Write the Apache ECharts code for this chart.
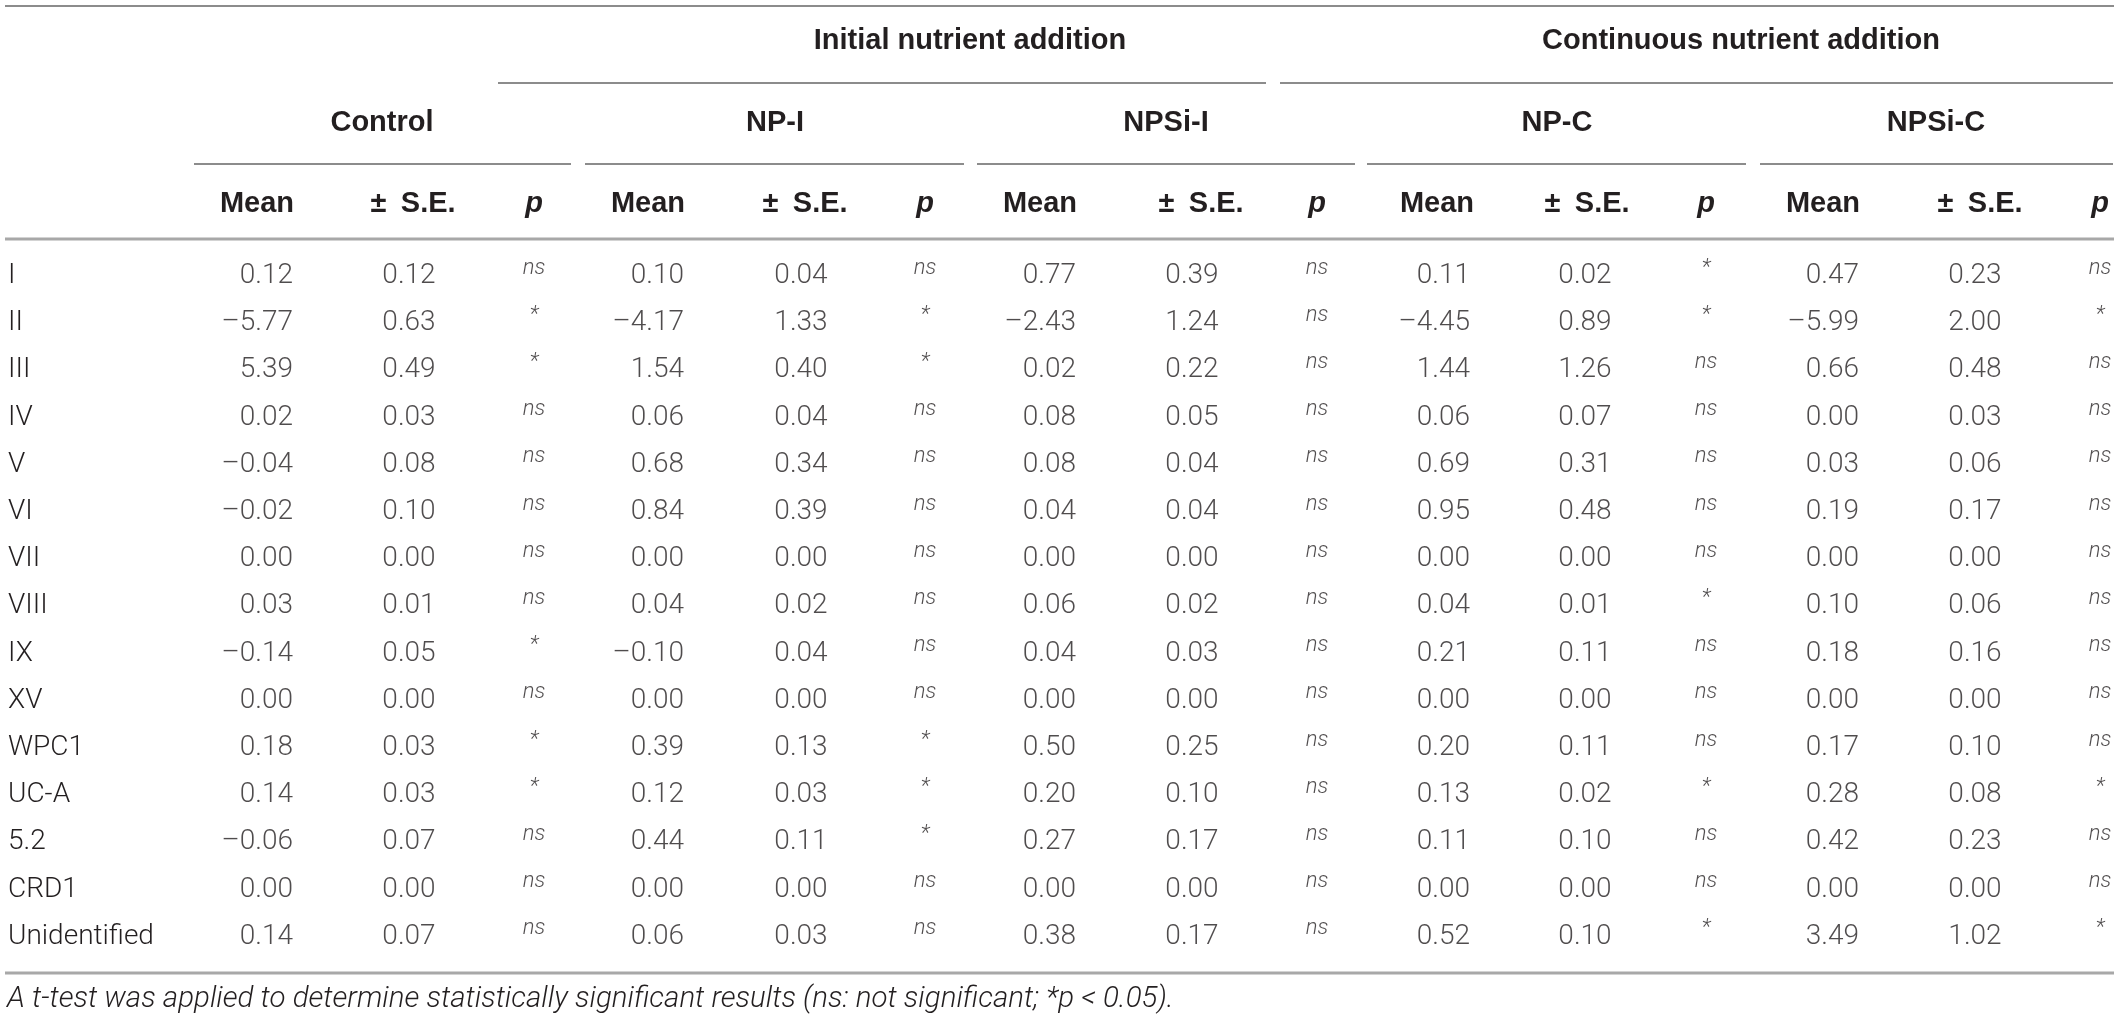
<!DOCTYPE html>
<html lang="en">
<head>
    <meta charset="UTF-8">
    <title>Table</title>
    <style>
        body { margin: 0; background: #fff; }
        #tabela { width: 2120px; height: 1022px; }
    </style>
</head>
<body>
    <div id="tabela"></div>

    <script src="https://cdnjs.cloudflare.com/ajax/libs/echarts/6.0.0/echarts.min.js"></script>
    <script>
        // row labels
        var rowNames = ['I', 'II', 'III', 'IV', 'V', 'VI', 'VII', 'VIII', 'IX', 'XV', 'WPC1', 'UC-A', '5.2', 'CRD1', 'Unidentified'];
        var groupNames = ['Control', 'NP-I', 'NPSi-I', 'NP-C', 'NPSi-C'];

        var controlMean = [0.12, -5.77, 5.39, 0.02, -0.04, -0.02, 0.00, 0.03, -0.14, 0.00, 0.18, 0.14, -0.06, 0.00, 0.14];
        var controlSE   = [0.12, 0.63, 0.49, 0.03, 0.08, 0.10, 0.00, 0.01, 0.05, 0.00, 0.03, 0.03, 0.07, 0.00, 0.07];
        var controlP    = ['ns', '*', '*', 'ns', 'ns', 'ns', 'ns', 'ns', '*', 'ns', '*', '*', 'ns', 'ns', 'ns'];

        var npIMean = [0.10, -4.17, 1.54, 0.06, 0.68, 0.84, 0.00, 0.04, -0.10, 0.00, 0.39, 0.12, 0.44, 0.00, 0.06];
        var npISE   = [0.04, 1.33, 0.40, 0.04, 0.34, 0.39, 0.00, 0.02, 0.04, 0.00, 0.13, 0.03, 0.11, 0.00, 0.03];
        var npIP    = ['ns', '*', '*', 'ns', 'ns', 'ns', 'ns', 'ns', 'ns', 'ns', '*', '*', '*', 'ns', 'ns'];

        var npsiIMean = [0.77, -2.43, 0.02, 0.08, 0.08, 0.04, 0.00, 0.06, 0.04, 0.00, 0.50, 0.20, 0.27, 0.00, 0.38];
        var npsiISE   = [0.39, 1.24, 0.22, 0.05, 0.04, 0.04, 0.00, 0.02, 0.03, 0.00, 0.25, 0.10, 0.17, 0.00, 0.17];
        var npsiIP    = ['ns', 'ns', 'ns', 'ns', 'ns', 'ns', 'ns', 'ns', 'ns', 'ns', 'ns', 'ns', 'ns', 'ns', 'ns'];

        var npCMean = [0.11, -4.45, 1.44, 0.06, 0.69, 0.95, 0.00, 0.04, 0.21, 0.00, 0.20, 0.13, 0.11, 0.00, 0.52];
        var npCSE   = [0.02, 0.89, 1.26, 0.07, 0.31, 0.48, 0.00, 0.01, 0.11, 0.00, 0.11, 0.02, 0.10, 0.00, 0.10];
        var npCP    = ['*', '*', 'ns', 'ns', 'ns', 'ns', 'ns', '*', 'ns', 'ns', 'ns', '*', 'ns', 'ns', '*'];

        var npsiCMean = [0.47, -5.99, 0.66, 0.00, 0.03, 0.19, 0.00, 0.10, 0.18, 0.00, 0.17, 0.28, 0.42, 0.00, 3.49];
        var npsiCSE   = [0.23, 2.00, 0.48, 0.03, 0.06, 0.17, 0.00, 0.06, 0.16, 0.00, 0.10, 0.08, 0.23, 0.00, 1.02];
        var npsiCP    = ['ns', '*', 'ns', 'ns', 'ns', 'ns', 'ns', 'ns', 'ns', 'ns', 'ns', '*', 'ns', 'ns', '*'];

        var groups = [
            { mean: controlMean, se: controlSE, p: controlP },
            { mean: npIMean, se: npISE, p: npIP },
            { mean: npsiIMean, se: npsiISE, p: npsiIP },
            { mean: npCMean, se: npCSE, p: npCP },
            { mean: npsiCMean, se: npsiCSE, p: npsiCP }
        ];

        // layout (pixels on the hidden x axis)
        var meanRight = [293, 684, 1076, 1470, 1859];
        var seCenter  = [409, 801, 1192, 1585, 1975];
        var pCenter   = [534, 925, 1317, 1706, 2100];
        var meanHead  = [257, 648, 1040, 1437, 1823];
        var seHead    = [413, 805, 1201, 1587, 1980];
        var groupHead = [382, 775, 1166, 1557, 1936];
        var groupLine = [[194, 571], [585, 964], [977, 1355], [1367, 1746], [1760, 2113]];

        var ink = '#231f20';
        var lightFont = 'Roboto, "Liberation Sans", sans-serif';
        var boldFont = '"Liberation Sans", Arial, sans-serif';

        function fmt(v) {
            return v.toFixed(2).replace('-', '\u2013');
        }

        var chart = echarts.init(document.getElementById('tabela'));

        var series = [];
        groups.forEach(function(g, gi) {
            series.push({
                type: 'scatter', symbolSize: 0, silent: true,
                data: g.mean.map(function(v, i) { return { name: fmt(v), value: [meanRight[gi], i] }; }),
                label: { show: true, position: 'inside', formatter: '{b}', align: 'right', verticalAlign: 'middle',
                         fontFamily: lightFont, fontWeight: 300, fontSize: 28, color: ink }
            });
            series.push({
                type: 'scatter', symbolSize: 0, silent: true,
                data: g.se.map(function(v, i) { return { name: fmt(v), value: [seCenter[gi], i] }; }),
                label: { show: true, position: 'inside', formatter: '{b}', align: 'center', verticalAlign: 'middle',
                         fontFamily: lightFont, fontWeight: 300, fontSize: 28, color: ink }
            });
            series.push({
                type: 'scatter', symbolSize: 0, silent: true,
                data: g.p.map(function(v, i) { return { name: v, value: [pCenter[gi], i] }; }),
                label: { show: true, position: 'inside', formatter: '{b}', align: 'center', verticalAlign: 'middle',
                         offset: [0, -8], fontFamily: lightFont, fontWeight: 300, fontStyle: 'italic',
                         fontSize: 22, color: ink }
            });
        });

        function txt(s, x, y, font, align) {
            return { type: 'text', x: x, y: y, silent: true,
                     style: { text: s, font: font, fill: ink, align: align || 'center', verticalAlign: 'middle',
                              textAlign: align || 'center', textVerticalAlign: 'middle' } };
        }
        function line(x1, x2, y, color, w) {
            return { type: 'line', silent: true, shape: { x1: x1, y1: y, x2: x2, y2: y },
                     style: { stroke: color, lineWidth: w } };
        }

        var headFont = 'bold 29px ' + boldFont;
        var graphics = [
            line(5, 2114, 6, '#8c8c8c', 2),
            line(498, 1266, 83, '#8c8c8c', 2),
            line(1280, 2113, 83, '#8c8c8c', 2),
            line(5, 2114, 239, '#a8a8a8', 3),
            line(5, 2114, 973, '#a8a8a8', 3),
            txt('Initial nutrient addition', 970, 41, headFont),
            txt('Continuous nutrient addition', 1741, 41, headFont)
        ];
        groupNames.forEach(function(n, gi) {
            graphics.push(txt(n, groupHead[gi], 123, headFont));
            graphics.push(line(groupLine[gi][0], groupLine[gi][1], 164, '#8c8c8c', 2));
            graphics.push(txt('Mean', meanHead[gi], 204, headFont));
            graphics.push(txt('\u00b1\u2002S.E.', seHead[gi], 204, headFont));
            graphics.push(txt('p', pCenter[gi], 204, 'italic bold 29px ' + boldFont));
        });
        graphics.push(txt('A t-test was applied to determine statistically significant results (ns: not significant; *p < 0.05).',
                          7, 1000, 'italic 300 29.5px ' + lightFont, 'left'));

        var option = {
            backgroundColor: '#ffffff',
            animation: false,
            grid: { left: 0, right: 0, top: 252.4, height: 708 },
            xAxis: { type: 'value', min: 0, max: 2120, show: false },
            yAxis: {
                type: 'category', inverse: true, data: rowNames,
                axisLine: { show: false }, axisTick: { show: false }, splitLine: { show: false },
                axisLabel: { inside: true, margin: 8, align: 'left', fontFamily: lightFont, fontWeight: 300,
                             fontSize: 28, color: ink }
            },
            series: series,
            graphic: graphics
        };
        chart.setOption(option);
    </script>
</body>
</html>
